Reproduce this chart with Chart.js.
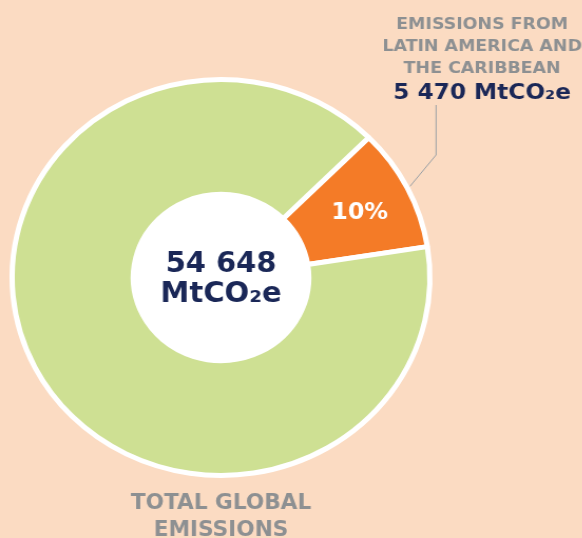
<!DOCTYPE html>
<html>
<head>
<meta charset="utf-8">
<script src="https://cdn.jsdelivr.net/npm/chart.js@4.4.1/dist/chart.umd.min.js"></script>
<style>
  html, body { margin: 0; padding: 0; background: #FBDBC2; overflow: hidden; }
  /* the ring is drawn slightly wider than tall */
  #wrap { position: absolute; left: 0; top: 0; width: 552px; height: 538px; transform: scaleX(1.055); transform-origin: 0 0; }
</style>
</head>
<body>
<div id="wrap"><canvas id="emissionsChart"></canvas></div>
<script>
// MtCO2e
const categories = ['Latin America and the Caribbean', 'Rest of the world'];
const emissions = [5470, 49178];
const sliceColors = ['#F47B27', '#CEE093'];
const regionLabel = ['EMISSIONS FROM', 'LATIN AMERICA AND', 'THE CARIBBEAN'];
const totalLabel = ['TOTAL GLOBAL', 'EMISSIONS'];
const unit = 'MtCO₂e';

const NAVY = '#1A2757';
const GREY = '#8D9092';
const FONT = '"DejaVu Sans", Verdana, sans-serif';

function fmt(n) {
    return String(n).replace(/\B(?=(\d{3})+(?!\d))/g, ' ');
}

const total = emissions.reduce((a, b) => a + b, 0);

// white disc behind the hole
const holeFill = {
    id: 'holeFill',
    beforeDatasetsDraw(chart) {
        const arc = chart.getDatasetMeta(0).data[0];
        const p = arc.getProps(['x', 'y', 'innerRadius'], true);
        const ctx = chart.ctx;
        ctx.save();
        ctx.fillStyle = '#FFFFFF';
        ctx.beginPath();
        ctx.arc(p.x, p.y, p.innerRadius + 1, 0, Math.PI * 2);
        ctx.fill();
        ctx.restore();
    }
};

const annotations = {
    id: 'annotations',
    afterDraw(chart) {
        const ctx = chart.ctx;
        const arc = chart.getDatasetMeta(0).data[0];
        const p = arc.getProps(['x', 'y', 'startAngle', 'endAngle', 'innerRadius', 'outerRadius'], true);
        const mid = (p.startAngle + p.endAngle) / 2;

        ctx.save();
        ctx.textAlign = 'center';
        ctx.textBaseline = 'alphabetic';

        // share of the slice
        const pct = Math.round(emissions[0] / total * 100) + '%';
        const r = p.innerRadius + (p.outerRadius - p.innerRadius) * 0.56;
        ctx.fillStyle = '#FFFFFF';
        ctx.font = 'bold 22.5px ' + FONT;
        ctx.fillText(pct, p.x + Math.cos(mid) * r, p.y + Math.sin(mid) * r + 8);

        // total in the hole
        ctx.fillStyle = NAVY;
        ctx.font = 'bold 27.5px ' + FONT;
        ctx.fillText(fmt(total), p.x, p.y - 5.5);
        ctx.fillText(unit, p.x, p.y + 24.5);

        // leader line from the slice edge
        const r0 = p.outerRadius + 3;
        ctx.strokeStyle = '#9AA0A5';
        ctx.lineWidth = 1;
        ctx.beginPath();
        ctx.moveTo(p.x + Math.cos(mid) * r0, p.y + Math.sin(mid) * r0);
        ctx.lineTo(413.3, 155);
        ctx.lineTo(413.3, 105);
        ctx.stroke();

        // region caption
        ctx.fillStyle = GREY;
        ctx.font = 'bold 16.5px ' + FONT;
        regionLabel.forEach((line, i) => ctx.fillText(line, 457, 28.5 + i * 22.3));
        ctx.fillStyle = NAVY;
        ctx.font = 'bold 22px ' + FONT;
        ctx.fillText(fmt(emissions[0]) + ' ' + unit, 457, 98.5);

        // total caption
        ctx.fillStyle = GREY;
        ctx.font = 'bold 20.5px ' + FONT;
        totalLabel.forEach((line, i) => ctx.fillText(line, p.x, 509 + i * 26.5));

        ctx.restore();
    }
};

new Chart(document.getElementById('emissionsChart'), {
    type: 'doughnut',
    data: {
        labels: categories,
        datasets: [{
            data: emissions,
            backgroundColor: sliceColors,
            borderColor: '#FFFFFF',
            borderWidth: 5
        }]
    },
    options: {
        responsive: true,
        maintainAspectRatio: false,
        animation: false,
        events: [],
        rotation: 45,
        radius: 198,
        cutout: '42%',
        layout: { padding: { left: 0, right: 133, top: 17, bottom: 0 } },
        plugins: {
            legend: { display: false },
            tooltip: { enabled: false }
        }
    },
    plugins: [holeFill, annotations]
});
</script>
</body>
</html>
